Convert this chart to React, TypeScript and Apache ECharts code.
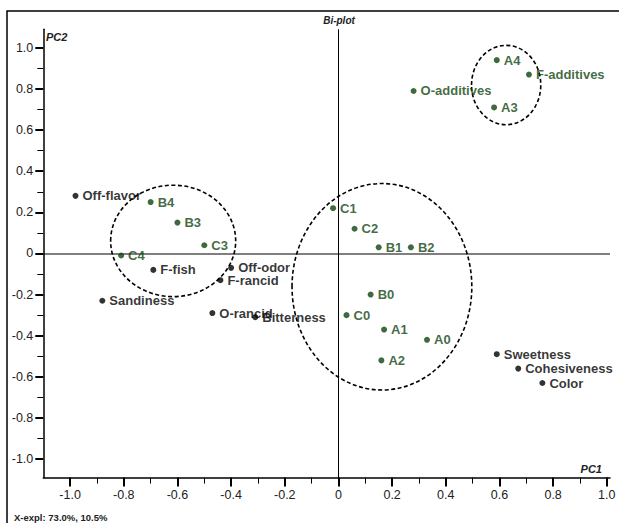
import React, { useEffect, useRef } from "react";
import * as echarts from "echarts";

// Sample scores (green)
const sampleNames = ["A0", "A1", "A2", "A3", "A4", "B0", "B1", "B2", "B3", "B4", "C0", "C1", "C2", "C3", "C4", "F-additives", "O-additives"];
const sampleX = [0.33, 0.17, 0.16, 0.58, 0.59, 0.12, 0.15, 0.27, -0.6, -0.7, 0.03, -0.02, 0.06, -0.5, -0.81, 0.71, 0.28];
const sampleY = [-0.42, -0.37, -0.52, 0.71, 0.94, -0.2, 0.03, 0.03, 0.15, 0.25, -0.3, 0.22, 0.12, 0.04, -0.01, 0.87, 0.79];

// Sensory attribute loadings (black)
const attrNames = ["Off-flavor", "F-fish", "Off-odor", "F-rancid", "Sandiness", "O-rancid", "Bitterness", "Sweetness", "Cohesiveness", "Color"];
const attrX = [-0.98, -0.69, -0.4, -0.44, -0.88, -0.47, -0.31, 0.59, 0.67, 0.76];
const attrY = [0.28, -0.08, -0.07, -0.13, -0.23, -0.29, -0.31, -0.49, -0.56, -0.63];

// Cluster ellipses: centre and radii in data units
const clusterCX = [-0.616, 0.162, 0.625];
const clusterCY = [0.061, -0.162, 0.819];
const clusterRX = [0.233, 0.335, 0.129];
const clusterRY = [0.271, 0.502, 0.193];

const X_MIN = -1.1;
const X_MAX = 1.012;
const Y_MIN = -1.09;
const Y_MAX = 1.09;

const GREEN = "#0f450f";
const FONT = "'Liberation Sans', Arial, sans-serif";

export default function App() {
  const ref = useRef<HTMLDivElement>(null);

  useEffect(() => {
    document.body.style.margin = "0";
    const chart = echarts.init(ref.current as HTMLDivElement, undefined, { renderer: "svg" });

    const plotLeft = 43.3;
    const plotRight = 610;
    const plotTop = 29.3;
    const plotBottom = 477.6;
    const px = (v: number) => plotLeft + ((v - X_MIN) / (X_MAX - X_MIN)) * (plotRight - plotLeft);
    const py = (v: number) => plotBottom - ((v - Y_MIN) / (Y_MAX - Y_MIN)) * (plotBottom - plotTop);

    const fmt = (v: number) => (Math.abs(v) < 1e-9 ? "0" : v.toFixed(1));

    const labelStyle = (color: string) => ({
      show: true,
      position: "right" as const,
      distance: 4,
      formatter: "{b}",
      color,
      fontFamily: FONT,
      fontWeight: "bold" as const,
      fontSize: 13,
    });

    const option: any = {
      animation: false,
      grid: [
        { left: plotLeft, top: plotTop, width: plotRight - plotLeft, height: plotBottom - plotTop },
        { left: px(-1), top: py(1), width: px(1) - px(-1), height: py(-1) - py(1) },
      ],
      xAxis: [
        {
          type: "value",
          gridIndex: 0,
          min: X_MIN,
          max: X_MAX,
          axisLine: { show: true, onZero: false, lineStyle: { color: "#000", width: 1.5 } },
          axisTick: { show: false },
          axisLabel: { show: false },
          splitLine: { show: false },
        },
        {
          type: "value",
          gridIndex: 1,
          min: -1,
          max: 1,
          interval: 0.2,
          offset: plotBottom - py(-1),
          axisLine: { show: false, onZero: false },
          axisTick: { show: true, length: 9, lineStyle: { color: "#000", width: 2 } },
          minorTick: { show: true, splitNumber: 2, length: 6, lineStyle: { color: "#000", width: 1 } },
          axisLabel: { margin: 11, formatter: fmt, color: "#222", fontFamily: FONT, fontSize: 12.5 },
          splitLine: { show: false },
          minorSplitLine: { show: false },
        },
      ],
      yAxis: [
        {
          type: "value",
          gridIndex: 0,
          min: Y_MIN,
          max: Y_MAX,
          axisLine: { show: true, onZero: false, lineStyle: { color: "#000", width: 1.5 } },
          axisTick: { show: false },
          axisLabel: { show: false },
          splitLine: { show: false },
        },
        {
          type: "value",
          gridIndex: 1,
          min: -1,
          max: 1,
          interval: 0.2,
          offset: px(-1) - plotLeft,
          axisLine: { show: false, onZero: false },
          axisTick: { show: true, length: 8, lineStyle: { color: "#000", width: 2 } },
          minorTick: { show: true, splitNumber: 2, length: 6, lineStyle: { color: "#000", width: 1 } },
          axisLabel: { margin: 10, formatter: fmt, color: "#222", fontFamily: FONT, fontSize: 12.5 },
          splitLine: { show: false },
          minorSplitLine: { show: false },
        },
      ],
      series: [
        {
          type: "custom",
          xAxisIndex: 0,
          yAxisIndex: 0,
          silent: true,
          z: 1,
          encode: { x: 0, y: 1 },
          data: clusterCX.map((c, i) => [c, clusterCY[i], clusterRX[i], clusterRY[i]]),
          renderItem: (params: any, api: any) => {
            const c = api.coord([api.value(0), api.value(1)]);
            const s = api.size([api.value(2), api.value(3)]);
            return {
              type: "ellipse",
              shape: { cx: c[0], cy: c[1], rx: s[0], ry: s[1] },
              style: { fill: "none", stroke: "#000", lineWidth: 1.6, lineDash: [4, 2.5] },
            };
          },
        },
        {
          type: "scatter",
          xAxisIndex: 0,
          yAxisIndex: 0,
          z: 3,
          symbolSize: 6,
          itemStyle: { color: GREEN },
          label: labelStyle(GREEN),
          data: sampleNames.map((n, i) => ({ name: n, value: [sampleX[i], sampleY[i]] })),
          markLine: {
            silent: true,
            symbol: ["none", "none"],
            label: { show: false },
            z: 0,
            data: [
              { yAxis: 0, lineStyle: { color: "#555", width: 1.5, type: "solid" } },
              { xAxis: 0, lineStyle: { color: "#000", width: 1, type: "solid" } },
            ],
          },
        },
        {
          type: "scatter",
          xAxisIndex: 0,
          yAxisIndex: 0,
          z: 3,
          symbolSize: 6,
          itemStyle: { color: "#000" },
          label: labelStyle("#000"),
          data: attrNames.map((n, i) => ({ name: n, value: [attrX[i], attrY[i]] })),
        },
      ],
      graphic: [
        {
          type: "rect",
          silent: true,
          shape: { x: 7, y: 11, width: 700, height: 600 },
          style: { fill: "none", stroke: "#000", lineWidth: 1.5 },
        },
        {
          type: "text",
          x: 339,
          y: 20,
          style: { text: "Bi-plot", fill: "#222", font: `italic bold 10px ${FONT}`, textAlign: "center", textVerticalAlign: "middle" },
        },
        {
          type: "text",
          x: 46,
          y: 37,
          style: { text: "PC2", fill: "#222", font: `italic bold 11px ${FONT}`, textAlign: "left", textVerticalAlign: "middle" },
        },
        {
          type: "text",
          x: 602,
          y: 469,
          style: { text: "PC1", fill: "#222", font: `italic bold 11px ${FONT}`, textAlign: "right", textVerticalAlign: "middle" },
        },
        {
          type: "text",
          x: 14,
          y: 517,
          style: { text: "X-expl: 73.0%, 10.5%", fill: "#222", font: `bold 9.5px ${FONT}`, textAlign: "left", textVerticalAlign: "middle" },
        },
      ],
    };

    chart.setOption(option);
    return () => chart.dispose();
  }, []);

  return <div ref={ref} style={{ width: 619, height: 523 }} />;
}
